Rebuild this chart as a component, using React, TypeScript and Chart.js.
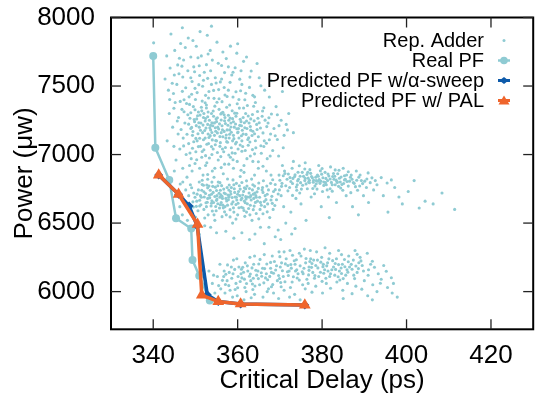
import React, { useEffect, useRef } from "react";
import { Chart, registerables } from "chart.js";

Chart.register(...registerables);

const xTicks = [340, 360, 380, 400, 420];
const yTicks = [6000, 6500, 7000, 7500, 8000];
const xTitle = "Critical Delay (ps)";
const yTitle = "Power (\u03bcw)";
const legendLabels = ["Rep. Adder", "Real PF", "Predicted PF w/\u03b1-sweep", "Predicted PF w/ PAL"];

const TEAL = "rgb(143,203,211)";
const BLUE = "#0d5aaa";
const ORANGE = "#ef652c";

const realPF: number[][] = [
  [340.0, 7720], [340.5, 7050], [343.8, 6814], [345.4, 6535], [349.0, 6460],
  [349.3, 6231], [350.9, 6115], [353.4, 5935],
];

const alphaSweepPF: number[][] = [
  [341.3, 6851], [346.0, 6710], [348.5, 6625], [350.4, 6480], [352.8, 5978],
  [355.4, 5927], [360.7, 5910], [375.9, 5902],
];

const palPF: number[][] = [
  [341.3, 6851], [346.0, 6710], [350.5, 6491], [351.5, 5975], [355.4, 5927],
  [360.7, 5910], [375.9, 5902],
];

const repAdderUpper: number[][] = [
  [340.1, 7815], [344.2, 7880], [346.5, 7810], [345.1, 7760], [348.3, 7850], [350.2, 7790], [352.8, 7870],
  [351.4, 7720], [347.2, 7690], [349.6, 7640], [353.5, 7760], [355.1, 7820], [357.3, 7700], [356.2, 7650],
  [359.8, 7740], [361.4, 7680], [363.2, 7610], [358.6, 7580], [354.7, 7560], [352.1, 7600], [348.9, 7560],
  [346.1, 7590], [344.5, 7520], [343.6, 7470], [350.8, 7510], [355.9, 7530], [360.5, 7550], [362.8, 7490],
  [365.1, 7560], [366.4, 7470], [357.8, 7470], [353.2, 7460], [349.1, 7440], [347.3, 7400], [351.6, 7390],
  [345.2, 7380], [354.4, 7410], [358.9, 7420], [361.7, 7400], [364.2, 7380], [367.5, 7420], [369.1, 7350],
  [346.8, 7330], [348.2, 7290], [349.5, 7350], [350.7, 7310], [351.9, 7270], [352.6, 7340], [353.8, 7300],
  [354.9, 7260], [355.6, 7330], [356.8, 7290], [357.9, 7250], [358.7, 7320], [359.6, 7280], [360.8, 7240],
  [361.9, 7300], [363.1, 7260], [364.5, 7220], [365.8, 7280], [367.2, 7230], [368.6, 7190], [370.3, 7250],
  [371.8, 7180], [347.5, 7230], [348.9, 7190], [349.8, 7240], [350.9, 7200], [351.7, 7160], [352.9, 7220],
  [353.6, 7180], [354.5, 7140], [355.3, 7200], [356.1, 7160], [357.2, 7120], [358.1, 7180], [359.0, 7140],
  [360.2, 7190], [361.3, 7150], [362.4, 7110], [363.6, 7170], [364.9, 7130], [366.3, 7100], [367.8, 7150],
  [369.4, 7110], [345.9, 7150], [347.1, 7120], [348.4, 7080], [349.3, 7140], [350.4, 7100], [351.2, 7060],
  [352.3, 7120], [353.1, 7080], [354.2, 7040], [355.0, 7100], [355.8, 7060], [356.7, 7020], [357.6, 7090],
  [358.5, 7050], [359.4, 7010], [360.6, 7070], [361.8, 7030], [363.0, 6990], [364.3, 7050], [365.6, 7010],
  [367.0, 6970], [368.3, 7030], [346.3, 7040], [347.8, 7000], [349.0, 6970], [350.1, 7020], [351.5, 6980],
  [352.7, 6940], [353.9, 7000], [355.4, 6960], [356.9, 6930], [358.3, 6980], [359.9, 6950], [361.5, 6920],
  [345.4, 6960], [348.6, 6920], [351.0, 6900], [350.3, 7260], [351.3, 7230], [352.0, 7300], [353.3, 7250],
  [354.1, 7210], [355.0, 7240], [356.3, 7210], [357.0, 7270], [357.5, 7180], [358.4, 7230], [359.2, 7200],
  [360.0, 7160], [360.9, 7210], [362.2, 7190], [353.0, 7150], [354.8, 7170], [356.5, 7130], [358.8, 7100],
  [361.0, 7100], [362.7, 7230], [343.8, 7300], [344.6, 7200], [343.3, 7100], [344.9, 7060], [346.0, 7270],
  [347.3, 7312], [348.7, 7265], [349.1, 7198], [349.9, 7327], [350.6, 7152], [351.1, 7288], [351.8, 7215],
  [352.2, 7176], [352.4, 7263], [353.0, 7311], [353.5, 7138], [353.9, 7232], [354.3, 7279], [354.7, 7196],
  [355.2, 7158], [355.7, 7224], [356.0, 7296], [356.4, 7181], [356.9, 7247], [357.3, 7143], [357.7, 7214],
  [358.2, 7266], [358.5, 7163], [359.0, 7239], [359.3, 7302], [359.8, 7188], [360.3, 7121], [360.6, 7258],
  [361.1, 7177], [361.6, 7232], [362.0, 7147], [362.5, 7281], [363.0, 7205], [363.4, 7139], [363.9, 7246],
  [364.6, 7183], [365.1, 7232], [366.0, 7158], [366.9, 7204], [348.0, 7148], [349.6, 7093], [350.2, 7211],
  [351.0, 7119], [352.7, 7075], [353.4, 7196], [354.0, 7107], [355.9, 7087], [357.1, 7051], [358.0, 7121],
  [359.5, 7078], [361.2, 7059], [362.9, 7092], [364.2, 7101], [365.5, 7064], [347.9, 7372], [350.0, 7402],
  [352.3, 7378], [354.6, 7353], [356.3, 7386], [358.1, 7362], [360.4, 7339], [362.3, 7358], [364.7, 7314],
  [366.2, 7341], [368.0, 7296], [369.8, 7211], [371.0, 7140], [346.6, 7183], [345.7, 7245], [344.9, 7338],
  [343.9, 7402], [346.9, 7461], [349.9, 7483], [353.8, 7512], [356.9, 7598], [359.4, 7633], [362.1, 7712],
  [358.3, 7791], [354.0, 7689], [350.6, 7706], [347.6, 7781], [345.8, 7654], [342.8, 7551], [364.6, 7664],
  [367.9, 7540], [370.6, 7460], [372.1, 7300], [370.8, 7050], [369.7, 6990], [366.0, 6915], [363.6, 6950],
  [354.6, 6900], [349.9, 6935], [347.0, 6900], [355.2, 7015], [352.0, 7035], [359.7, 7090], [356.2, 7302],
  [351.4, 7345], [348.6, 7366], [353.1, 7413], [357.0, 7435], [360.7, 7466], [363.6, 7432], [355.5, 7474],
  [351.9, 7542], [348.2, 7612], [344.0, 7632], [346.2, 7703], [352.6, 7656], [356.5, 7748], [360.0, 7809],
  [351.1, 7897], [346.9, 7925], [353.8, 7937], [349.4, 7832],
  [348.4, 7222], [348.9, 7305], [349.4, 7168], [349.7, 7256], [350.1, 7118], [350.5, 7283], [350.8, 7232],
  [351.2, 7177], [351.5, 7319], [351.9, 7108], [352.3, 7245], [352.5, 7193], [352.9, 7276], [353.2, 7124],
  [353.6, 7213], [353.9, 7161], [354.2, 7318], [354.5, 7231], [354.8, 7102], [355.2, 7269], [355.5, 7186],
  [355.8, 7131], [356.1, 7252], [356.5, 7308], [356.8, 7169], [357.1, 7226], [357.4, 7094], [357.8, 7287],
  [358.1, 7148], [358.4, 7201], [358.8, 7262], [359.1, 7116], [359.5, 7223], [359.8, 7301], [360.1, 7165],
  [360.5, 7213], [360.9, 7137], [361.3, 7270], [361.7, 7196], [362.1, 7245], [362.6, 7122], [363.1, 7178],
  [363.5, 7292], [364.0, 7152], [364.8, 7265], [365.4, 7194], [366.5, 7251], [367.5, 7108], [352.6, 7362],
  [355.1, 7382], [357.4, 7345], [359.9, 7371], [361.4, 7340], [363.8, 7352], [349.3, 7046], [351.6, 7022],
  [353.8, 7058], [356.4, 7040], [358.7, 7012], [361.0, 7024], [363.5, 7036], [366.2, 7059], [350.3, 6962],
  [353.3, 6975], [356.0, 6985], [358.9, 6962], [362.2, 6970], [364.9, 6948], [367.7, 6990],
  [344.8, 7445], [345.6, 7512], [346.4, 7388], [347.0, 7566], [347.7, 7487], [348.5, 7421], [349.2, 7533],
  [349.8, 7604], [350.4, 7452], [351.0, 7577], [351.7, 7498], [352.4, 7432], [352.9, 7556], [353.6, 7611],
  [354.3, 7468], [354.9, 7522], [355.6, 7407], [356.2, 7551], [356.8, 7489], [357.5, 7424], [358.2, 7527],
  [358.9, 7601], [359.6, 7458], [360.3, 7402], [361.0, 7512], [361.9, 7447], [362.9, 7565], [364.0, 7421],
  [365.5, 7502], [346.8, 7645], [348.9, 7712], [350.9, 7648], [353.0, 7734], [355.4, 7666], [357.8, 7640],
  [360.8, 7611], [345.0, 7580], [343.2, 7720], [347.2, 7063], [348.7, 7011], [350.7, 7058], [352.4, 6992],
  [354.7, 7072], [357.9, 6997], [360.1, 7041], [362.5, 7068], [364.0, 7005], [366.8, 7082], [368.9, 7137],
  [367.4, 7269], [365.9, 7318], [369.4, 7290], [371.5, 7220], [373.2, 7160],
];

const repAdderMiddle: number[][] = [
  [348.8, 6780], [349.6, 6720], [350.3, 6660], [350.9, 6800], [351.5, 6740], [352.1, 6690], [352.6, 6620],
  [353.2, 6770], [353.8, 6710], [354.3, 6650], [354.9, 6590], [355.4, 6800], [355.9, 6740], [356.4, 6680],
  [357.0, 6620], [357.5, 6760], [358.0, 6700], [358.6, 6640], [359.1, 6580], [359.7, 6790], [360.2, 6730],
  [360.8, 6670], [361.3, 6610], [361.9, 6750], [362.4, 6690], [363.0, 6630], [363.6, 6780], [364.1, 6720],
  [364.7, 6660], [365.3, 6600], [365.9, 6760], [366.5, 6700], [367.1, 6640], [367.8, 6790], [368.5, 6730],
  [369.2, 6670], [351.2, 6700], [352.9, 6680], [353.5, 6740], [355.1, 6700], [356.1, 6650], [356.8, 6720],
  [357.8, 6670], [358.3, 6730], [359.4, 6690], [360.5, 6700], [361.6, 6660], [362.7, 6720], [363.8, 6680],
  [355.7, 6610], [357.3, 6560], [360.0, 6560], [362.1, 6580], [364.4, 6570], [350.6, 6590], [353.0, 6560],
  [349.2, 6880], [351.8, 6850], [354.0, 6880], [356.6, 6860], [359.0, 6900], [361.5, 6870], [364.0, 6850],
  [366.8, 6880], [352.4, 6920], [357.9, 6930], [347.5, 6650], [346.9, 6560], [348.1, 6520], [354.6, 6520],
  [358.8, 6500], [363.4, 6520], [367.6, 6540], [369.8, 6850], [370.5, 6790], [371.1, 6880], [371.7, 6820],
  [372.3, 6760], [372.9, 6900], [373.5, 6840], [374.1, 6780], [374.7, 6720], [375.3, 6870], [375.9, 6810],
  [376.5, 6750], [377.1, 6890], [377.7, 6830], [378.3, 6770], [378.9, 6850], [379.5, 6790], [380.1, 6730],
  [380.7, 6870], [381.3, 6810], [381.9, 6750], [382.5, 6840], [383.1, 6780], [383.7, 6860], [384.3, 6800],
  [384.9, 6740], [385.5, 6820], [386.2, 6770], [386.9, 6850], [387.6, 6790], [388.4, 6740], [389.3, 6810],
  [390.5, 6760], [391.8, 6830], [393.0, 6780], [376.0, 6940], [379.2, 6920], [382.0, 6910], [385.0, 6900],
  [373.2, 6950], [370.3, 6700], [373.8, 6680], [377.4, 6690], [381.5, 6690], [385.7, 6700], [389.8, 6700],
  [378.6, 6810], [380.4, 6800], [382.8, 6820], [376.8, 6800], [374.4, 6820], [368.4, 6600], [370.9, 6620],
  [372.6, 6580], [375.0, 6640], [379.8, 6620], [383.4, 6650], [387.2, 6620], [391.0, 6650], [394.5, 6700],
  [397.2, 6760], [399.0, 6640], [401.8, 6810], [404.4, 6660], [408.4, 6720], [411.4, 6600], [395.6, 6580],
  [388.6, 6560], [381.7, 6540], [376.2, 6520], [371.4, 6500], [369.6, 6450], [372.8, 6420], [368.9, 6400],
  [365.4, 6470], [361.0, 6430], [357.2, 6440], [353.6, 6470], [350.9, 6420], [362.8, 6380], [366.3, 6350],
  [345.6, 6700], [346.3, 6620], [347.0, 6800], [345.0, 6880],
  [349.9, 6688], [350.7, 6742], [351.3, 6634], [351.9, 6776], [352.4, 6716], [352.8, 6652], [353.3, 6703],
  [353.7, 6625], [354.1, 6768], [354.6, 6694], [355.0, 6738], [355.3, 6641], [355.8, 6689], [356.2, 6773],
  [356.6, 6611], [357.1, 6714], [357.4, 6662], [357.9, 6741], [358.2, 6598], [358.7, 6687], [359.2, 6750],
  [359.6, 6636], [360.0, 6710], [360.4, 6772], [360.9, 6615], [361.2, 6705], [361.8, 6648], [362.2, 6770],
  [362.6, 6606], [363.1, 6700], [363.5, 6742], [363.9, 6624], [364.4, 6689], [364.9, 6753], [365.4, 6651],
  [366.0, 6724], [366.7, 6671], [367.3, 6742], [368.1, 6695], [368.8, 6628], [351.6, 6812], [354.4, 6834],
  [357.6, 6822], [360.6, 6840], [363.3, 6821], [366.1, 6809], [368.9, 6781], [350.0, 6544], [352.2, 6537],
  [356.3, 6547], [359.6, 6529], [361.7, 6549], [365.0, 6531], [367.0, 6582], [355.0, 6666], [357.7, 6705],
  [359.8, 6668], [362.0, 6676], [364.3, 6700], [356.0, 6706], [358.5, 6759], [354.8, 6621], [352.0, 6600],
  [366.4, 6620], [353.9, 6799], [361.0, 6796], [349.5, 6617], [348.4, 6700], [347.7, 6742], [346.4, 6785],
  [348.0, 6835],
  [370.0, 6813], [370.8, 6845], [371.4, 6772], [372.0, 6858], [372.6, 6803], [373.1, 6826], [373.9, 6763],
  [374.3, 6871], [374.9, 6795], [375.6, 6841], [376.2, 6786], [376.7, 6828], [377.3, 6863], [377.9, 6798],
  [378.5, 6835], [378.8, 6748], [379.3, 6818], [379.9, 6857], [380.4, 6775], [380.9, 6826], [381.6, 6843],
  [382.2, 6797], [382.7, 6862], [383.3, 6814], [383.9, 6768], [384.5, 6836], [385.1, 6789], [385.8, 6851],
  [386.5, 6806], [387.1, 6820], [387.9, 6766], [388.7, 6835], [389.6, 6788], [390.6, 6822], [391.4, 6795],
  [392.6, 6810], [394.0, 6832], [395.4, 6793], [371.9, 6735], [375.1, 6748], [378.2, 6714], [382.4, 6733],
  [386.8, 6722], [373.0, 6702], [370.6, 6920], [374.6, 6918], [380.0, 6898], [384.0, 6886], [388.1, 6880],
  [390.9, 6866], [376.6, 6870], [381.0, 6780], [379.0, 6805], [377.0, 6812], [383.6, 6797], [385.3, 6815],
  [392.2, 6742], [396.4, 6815], [398.2, 6690], [400.4, 6730], [403.0, 6610], [406.3, 6640],
  [367.4, 6470], [370.2, 6380], [364.1, 6420], [359.1, 6390], [355.0, 6430], [352.2, 6480], [373.6, 6460],
  [350.4, 6711], [351.0, 6667], [351.6, 6782], [352.0, 6729], [352.5, 6648], [352.9, 6757], [353.4, 6684],
  [353.8, 6645], [354.2, 6724], [354.7, 6762], [355.1, 6675], [355.6, 6718], [355.9, 6634], [356.3, 6695],
  [356.7, 6748], [357.2, 6680], [357.6, 6631], [358.0, 6778], [358.4, 6712], [358.9, 6655], [359.3, 6724],
  [359.7, 6688], [360.1, 6645], [360.6, 6748], [361.0, 6682], [361.4, 6731], [361.9, 6693], [362.3, 6641],
  [362.8, 6752], [363.2, 6668], [363.7, 6711], [364.2, 6651], [364.6, 6728], [365.2, 6688], [365.8, 6742],
  [366.3, 6657], [367.0, 6710], [367.9, 6668], [354.0, 6588], [356.9, 6582], [359.0, 6611], [361.5, 6592],
  [363.7, 6598], [366.0, 6568], [352.9, 6820], [355.8, 6795], [358.9, 6815], [362.1, 6808], [365.0, 6792],
  [368.3, 6816], [351.0, 6625], [349.4, 6655], [368.9, 6744], [369.6, 6712],
  [372.4, 6832], [373.0, 6789], [373.6, 6852], [374.2, 6808], [374.8, 6842], [375.4, 6776], [376.0, 6826],
  [376.4, 6855], [377.0, 6794], [377.5, 6840], [378.0, 6812], [378.6, 6787], [379.1, 6842], [379.7, 6806],
  [380.2, 6831], [380.8, 6795], [381.4, 6858], [381.9, 6822], [382.4, 6780], [383.0, 6842], [383.5, 6805],
  [384.1, 6827], [384.7, 6781], [385.3, 6845], [385.9, 6803], [386.7, 6834], [387.4, 6796], [388.2, 6812],
  [389.0, 6851], [390.1, 6806], [374.0, 6740], [377.8, 6752], [381.2, 6742], [384.4, 6756], [388.9, 6771],
  [375.9, 6895], [379.6, 6881], [383.1, 6888], [386.2, 6875], [371.2, 6862], [370.4, 6768],
  [349.1, 6758], [350.2, 6622], [351.4, 6689], [352.7, 6778], [353.9, 6663], [355.3, 6772], [356.5, 6631],
  [357.9, 6688], [359.1, 6780], [360.3, 6612], [361.6, 6757], [362.9, 6689], [364.0, 6770], [365.6, 6630],
  [366.9, 6771], [368.2, 6644], [369.9, 6742], [354.4, 6560], [358.2, 6545], [362.9, 6560], [352.9, 6854],
  [356.1, 6905], [360.8, 6885], [364.9, 6900], [367.9, 6850],
];

const repAdderLower: number[][] = [
  [354.0, 6060], [355.2, 6110], [356.0, 6020], [356.8, 6150], [357.5, 6080], [358.2, 6010], [358.9, 6130],
  [359.6, 6060], [360.3, 6180], [361.0, 6100], [361.7, 6030], [362.4, 6150], [363.1, 6080], [363.8, 6200],
  [364.5, 6120], [365.2, 6050], [365.9, 6170], [366.6, 6100], [367.3, 6020], [368.0, 6140], [368.7, 6220],
  [369.4, 6080], [370.1, 6180], [370.8, 6110], [371.5, 6240], [372.2, 6150], [372.9, 6070], [373.6, 6200],
  [374.3, 6130], [375.0, 6260], [375.7, 6170], [376.4, 6090], [377.1, 6220], [377.8, 6140], [378.5, 6190],
  [379.2, 6110], [379.9, 6250], [380.6, 6160], [381.3, 6210], [382.0, 6130], [382.7, 6180], [383.4, 6240],
  [384.1, 6150], [384.8, 6200], [385.6, 6120], [386.5, 6180], [387.4, 6230], [388.3, 6140], [389.5, 6190],
  [357.0, 5990], [359.9, 5970], [362.0, 6000], [364.0, 5980], [366.0, 5960], [368.5, 5990], [371.0, 6010],
  [373.5, 5980], [376.0, 6020], [378.5, 6040], [381.0, 6060], [383.5, 6070], [386.0, 6060], [388.0, 6040],
  [390.0, 6080], [392.0, 6050], [394.0, 6090], [395.5, 6030], [397.8, 5960], [390.8, 5970], [385.0, 5950],
  [380.1, 5990], [374.8, 5940], [369.7, 5950], [361.5, 5940], [362.9, 6250], [366.3, 6270], [369.8, 6290],
  [372.4, 6300], [375.8, 6310], [378.7, 6290], [381.8, 6280], [384.6, 6270], [387.8, 6300], [391.5, 6200],
  [393.3, 6130], [359.0, 6230], [355.8, 6200], [353.2, 6150], [352.5, 6020], [374.0, 6160], [376.9, 6180],
  [380.3, 6200], [371.9, 6190], [378.0, 6230], [383.0, 6120], [367.8, 6170], [364.8, 6150], [360.8, 6130],
  [385.9, 6160],
  [356.4, 6082], [357.2, 6127], [357.9, 6044], [358.6, 6097], [359.3, 6162], [360.0, 6028], [360.6, 6074],
  [361.4, 6141], [362.1, 6059], [362.8, 6112], [363.4, 6173], [364.1, 6041], [364.9, 6095], [365.6, 6138],
  [366.2, 6064], [366.9, 6201], [367.6, 6111], [368.3, 6051], [369.0, 6158], [369.7, 6117], [370.4, 6210],
  [371.2, 6072], [371.8, 6145], [372.6, 6198], [373.2, 6108], [373.9, 6232], [374.6, 6084], [375.3, 6145],
  [376.1, 6210], [376.8, 6122], [377.5, 6177], [378.2, 6098], [378.9, 6230], [379.6, 6141], [380.2, 6182],
  [380.9, 6097], [381.6, 6239], [382.3, 6160], [383.1, 6205], [383.8, 6108], [384.5, 6172], [385.3, 6234],
  [386.1, 6142], [386.9, 6199], [387.7, 6095], [388.7, 6211], [389.8, 6150], [390.9, 6119], [392.4, 6178],
  [393.8, 6061], [395.2, 6149], [396.4, 6101], [355.5, 6044], [354.6, 5990], [358.8, 5960], [363.2, 5955],
  [367.0, 6000], [370.3, 6035], [372.3, 5960], [375.4, 6050], [377.6, 5996], [382.0, 6025], [384.9, 6010],
  [387.1, 5985], [389.4, 6018], [391.9, 5940], [393.0, 6000], [396.6, 5990], [361.8, 6210], [365.3, 6235],
  [368.2, 6260], [371.0, 6290], [374.6, 6280], [377.2, 6300], [380.7, 6320], [383.9, 6300], [386.3, 6260],
  [389.0, 6250], [390.7, 6280], [357.6, 6195], [359.8, 6240], [354.3, 6120],
  [360.1, 6110], [360.9, 6163], [361.6, 6091], [362.3, 6188], [363.0, 6128], [363.7, 6097], [364.3, 6156],
  [365.0, 6201], [365.7, 6112], [366.4, 6168], [367.1, 6086], [367.8, 6213], [368.5, 6134], [369.2, 6189],
  [369.9, 6096], [370.6, 6152], [371.3, 6202], [372.0, 6118], [372.7, 6171], [373.4, 6225], [374.1, 6099],
  [374.8, 6188], [375.5, 6131], [376.2, 6242], [376.9, 6155], [377.6, 6205], [378.3, 6117], [379.0, 6173],
  [379.7, 6215], [380.4, 6134], [381.1, 6188], [381.8, 6110], [382.5, 6226], [383.2, 6162], [383.9, 6197],
  [384.6, 6132], [385.4, 6181], [386.2, 6218], [387.1, 6163], [388.0, 6187], [389.2, 6224], [358.5, 6180],
  [357.1, 6052], [359.4, 6015], [363.6, 6015], [368.0, 6035], [372.5, 6030], [376.7, 6060], [380.0, 6075],
  [384.2, 6085], [387.5, 6120], [391.0, 6160], [394.6, 6190], [396.9, 6060], [388.3, 6272], [373.0, 6265],
  [370.0, 6255], [364.0, 6260],
  [358.0, 6140], [361.2, 6178], [363.5, 6055], [366.8, 6130], [370.2, 6066], [373.7, 6150], [377.3, 6240],
  [381.4, 6150], [385.0, 6095], [388.6, 6168], [391.9, 6221], [356.7, 6110],
];

const FONT = '"Liberation Sans", Arial, Helvetica, sans-serif';

const toXY = (arr: number[][]) => arr.map(([x, y]) => ({ x, y }));

const framePlugin = {
  id: "frame",
  afterDatasetsDraw(chart: any) {
    const { ctx, chartArea: a, scales } = chart;
    ctx.save();
    ctx.strokeStyle = "#000";
    ctx.lineWidth = 2;
    ctx.strokeRect(a.left, a.top, a.right - a.left, a.bottom - a.top);
    ctx.lineWidth = 1.3;
    ctx.strokeStyle = "#222";
    const tl = 10;
    const seg = (x1: number, y1: number, x2: number, y2: number) => {
      ctx.beginPath();
      ctx.moveTo(x1, y1);
      ctx.lineTo(x2, y2);
      ctx.stroke();
    };
    for (const v of xTicks) {
      const x = scales.x.getPixelForValue(v);
      seg(x, a.bottom, x, a.bottom - tl);
      seg(x, a.top, x, a.top + tl);
    }
    for (const v of yTicks) {
      const y = scales.y.getPixelForValue(v);
      seg(a.left, y, a.left + tl, y);
      seg(a.right, y, a.right - tl, y);
    }
    ctx.restore();
  },
};

const legendPlugin = {
  id: "customLegend",
  afterDraw(chart: any) {
    const { ctx } = chart;
    ctx.save();
    ctx.font = `20px ${FONT}`;
    ctx.textAlign = "right";
    ctx.textBaseline = "alphabetic";
    const textRight = 484;
    const symX = 504;
    const baselines = [47, 67, 87, 107];
    legendLabels.forEach((label, i) => {
      ctx.fillStyle = "#000";
      ctx.fillText(label, textRight, baselines[i]);
      const cy = baselines[i] - 6.5;
      if (i === 0) {
        ctx.fillStyle = TEAL;
        ctx.beginPath();
        ctx.arc(symX, cy, 1.5, 0, Math.PI * 2);
        ctx.fill();
      } else {
        const color = i === 1 ? TEAL : i === 2 ? BLUE : ORANGE;
        ctx.strokeStyle = color;
        ctx.fillStyle = color;
        ctx.lineWidth = i === 1 ? 2.5 : 3;
        ctx.beginPath();
        ctx.moveTo(symX - 6, cy);
        ctx.lineTo(symX + 6, cy);
        ctx.stroke();
        ctx.beginPath();
        if (i === 1) {
          ctx.arc(symX, cy, 3.8, 0, Math.PI * 2);
        } else if (i === 2) {
          ctx.moveTo(symX, cy - 3.5);
          ctx.lineTo(symX + 4.5, cy);
          ctx.lineTo(symX, cy + 3.5);
          ctx.lineTo(symX - 4.5, cy);
          ctx.closePath();
        } else {
          ctx.moveTo(symX, cy - 5);
          ctx.lineTo(symX + 5.5, cy + 4);
          ctx.lineTo(symX - 5.5, cy + 4);
          ctx.closePath();
        }
        ctx.fill();
      }
    });
    ctx.restore();
  },
};

export default function App() {
  const canvasRef = useRef<HTMLCanvasElement | null>(null);

  useEffect(() => {
    const canvas = canvasRef.current;
    if (!canvas) return;
    const repAdder = [...repAdderUpper, ...repAdderMiddle, ...repAdderLower];
    const chart = new Chart(canvas, {
      type: "scatter",
      data: {
        datasets: [
          {
            label: legendLabels[3],
            data: toXY(palPF),
            showLine: true,
            borderColor: ORANGE,
            backgroundColor: ORANGE,
            borderWidth: 3.5,
            pointStyle: "triangle",
            pointRadius: 6.8,
            pointBorderWidth: 0,
            order: 1,
          },
          {
            label: legendLabels[2],
            data: toXY(alphaSweepPF),
            showLine: true,
            borderColor: BLUE,
            backgroundColor: BLUE,
            borderWidth: 3.5,
            pointStyle: "rectRot",
            pointRadius: 4.5,
            pointBorderWidth: 0,
            order: 2,
          },
          {
            label: legendLabels[1],
            data: toXY(realPF),
            showLine: true,
            borderColor: TEAL,
            backgroundColor: TEAL,
            borderWidth: 2.5,
            pointStyle: "circle",
            pointRadius: 4,
            pointBorderWidth: 0,
            order: 3,
          },
          {
            label: legendLabels[0],
            data: toXY(repAdder),
            showLine: false,
            backgroundColor: TEAL,
            borderColor: TEAL,
            pointStyle: "circle",
            pointRadius: 1.55,
            pointBorderWidth: 0,
            order: 4,
          },
        ],
      },
      options: {
        animation: false,
        responsive: false,
        devicePixelRatio: 1,
        events: [],
        layout: { padding: { left: 0, right: 3, top: 17.5, bottom: 0 } },
        plugins: {
          legend: { display: false },
          tooltip: { enabled: false },
        },
        scales: {
          x: {
            type: "linear",
            min: 330,
            max: 430,
            afterBuildTicks: (s: any) => {
              s.ticks = xTicks.map((v) => ({ value: v }));
            },
            afterFit: (s: any) => {
              s.height = 66.7;
              s.paddingLeft = 0;
              s.paddingRight = 0;
              s.paddingTop = 0;
              s.paddingBottom = 0;
            },
            grid: { display: false, drawTicks: false },
            border: { display: false },
            ticks: {
              padding: 10.9,
              color: "#000",
              maxRotation: 0,
              autoSkip: false,
              font: { family: FONT, size: 26 },
              callback: (v: any) => String(v),
            },
            title: {
              display: true,
              text: xTitle,
              color: "#000",
              font: { family: FONT, size: 26 },
              padding: { top: 0, bottom: 0 },
            },
          },
          y: {
            type: "linear",
            min: 5725,
            max: 8000,
            afterBuildTicks: (s: any) => {
              s.ticks = yTicks.map((v) => ({ value: v }));
            },
            afterFit: (s: any) => {
              s.width = 111;
              s.paddingLeft = 0;
              s.paddingRight = 0;
              s.paddingTop = 0;
              s.paddingBottom = 0;
            },
            grid: { display: false, drawTicks: false },
            border: { display: false },
            ticks: {
              padding: 16,
              color: "#000",
              autoSkip: false,
              font: { family: FONT, size: 26 },
              callback: (v: any) => String(v),
            },
            title: {
              display: true,
              text: yTitle,
              color: "#000",
              font: { family: FONT, size: 26 },
              padding: { top: 8.9, bottom: 0 },
            },
          },
        },
      },
      plugins: [framePlugin, legendPlugin],
    } as any);
    return () => chart.destroy();
  }, []);

  return (
    <div
      style={{
        position: "absolute",
        left: 0,
        top: 0,
        width: 536,
        height: 396,
        overflow: "hidden",
        background: "#fff",
      }}
    >
      <canvas ref={canvasRef} width={540} height={396} style={{ width: 540, height: 396, display: "block" }} />
    </div>
  );
}
